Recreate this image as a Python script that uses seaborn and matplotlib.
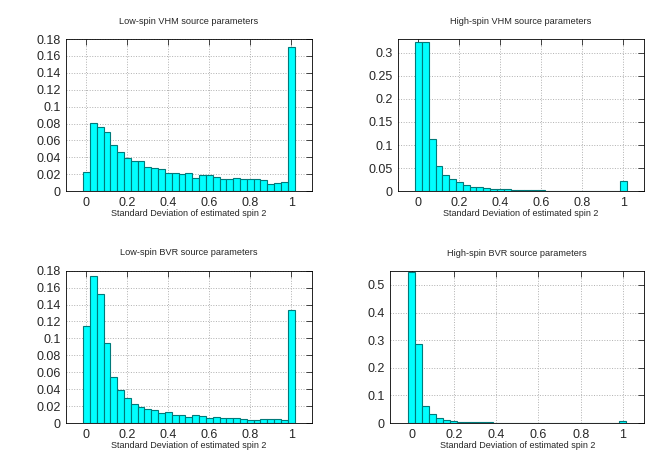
import seaborn as sns
import matplotlib.pyplot as plt
import pandas as pd
import numpy as np

sns.set_style("white")
plt.rcParams['font.family'] = ['Liberation Sans', 'DejaVu Sans']

# ---- bin centres: 31 bins of width 1/30 centred on 0, 1/30, ..., 1 ----
bin_centers = np.arange(31) / 30.0
n_bins = 31
bin_range = (-1 / 60.0, 1 + 1 / 60.0)

low_vhm = [0.023, 0.081, 0.076, 0.070, 0.055, 0.046, 0.039, 0.036, 0.036, 0.029,
           0.027, 0.026, 0.022, 0.022, 0.020, 0.021, 0.016, 0.019, 0.019, 0.017,
           0.014, 0.014, 0.015, 0.014, 0.014, 0.014, 0.013, 0.009, 0.010, 0.011,
           0.171]
high_vhm = [0.323, 0.323, 0.113, 0.055, 0.036, 0.026, 0.019, 0.013, 0.010, 0.008,
            0.006, 0.005, 0.005, 0.004, 0.003, 0.003, 0.002, 0.002, 0.002, 0.001,
            0.001, 0.001, 0.001, 0.001, 0.001, 0.001, 0.001, 0.001, 0.0005, 0.0005,
            0.021]
low_bvr = [0.115, 0.174, 0.153, 0.095, 0.054, 0.039, 0.030, 0.022, 0.019, 0.016,
           0.015, 0.012, 0.013, 0.010, 0.010, 0.007, 0.010, 0.008, 0.006, 0.007,
           0.006, 0.006, 0.006, 0.005, 0.004, 0.004, 0.005, 0.005, 0.005, 0.004,
           0.133]
high_bvr = [0.548, 0.285, 0.063, 0.033, 0.018, 0.010, 0.007, 0.004, 0.003, 0.003,
            0.003, 0.002, 0.001, 0.001, 0.001, 0.001, 0.0005, 0.0005, 0.0005, 0.0005,
            0.0005, 0.0005, 0.0005, 0.0005, 0.0005, 0.0005, 0.0005, 0.0005, 0.0005, 0.0005,
            0.008]

panels = [
    ("Low-spin VHM source parameters", low_vhm, 0.18, 0.02,
     [0.0994, 0.589, 0.370, 0.327]),
    ("High-spin VHM source parameters", high_vhm, 0.33, 0.05,
     [0.5994, 0.589, 0.370, 0.327]),
    ("Low-spin BVR source parameters", low_bvr, 0.18, 0.02,
     [0.0994, 0.0903, 0.370, 0.3275]),
    ("High-spin BVR source parameters", high_bvr, 0.55, 0.1,
     [0.588, 0.0903, 0.382, 0.3265]),
]

fig = plt.figure(figsize=(6.64, 4.65), dpi=100)

for title, vals, ymax, ystep, rect in panels:
    ax = fig.add_axes(rect)
    df = pd.DataFrame({"sd": bin_centers, "frac": vals})
    sns.histplot(data=df, x="sd", weights="frac", bins=n_bins, binrange=bin_range,
                 stat="count", color="#00ffff", edgecolor="#007a7a", linewidth=0.8,
                 alpha=1.0, ax=ax)
    ax.set_xlim(-0.1, 1.1)
    ax.set_ylim(0, ymax)
    ax.set_xticks(np.arange(0, 1.01, 0.2))
    ax.set_xticklabels(["0", "0.2", "0.4", "0.6", "0.8", "1"])
    yt = np.arange(0, ymax + 1e-9, ystep)
    ax.set_yticks(yt)
    ax.set_yticklabels(["0" if v == 0 else ("%g" % round(v, 3)) for v in yt])
    ax.grid(True, color="#b0b0b0", linestyle=":", linewidth=0.7)
    ax.set_axisbelow(True)
    ax.tick_params(direction="in", length=4, width=0.6, top=True, right=True,
                   labelsize=9, pad=4)
    for s in ax.spines.values():
        s.set_color("black")
        s.set_linewidth(0.6)
    ax.set_title(title, fontsize=6.6, pad=11)
    ax.set_xlabel("Standard Deviation of estimated spin 2", fontsize=6.5, labelpad=0)
    ax.set_ylabel("")

plt.savefig("out.png", dpi=100)
plt.close()
